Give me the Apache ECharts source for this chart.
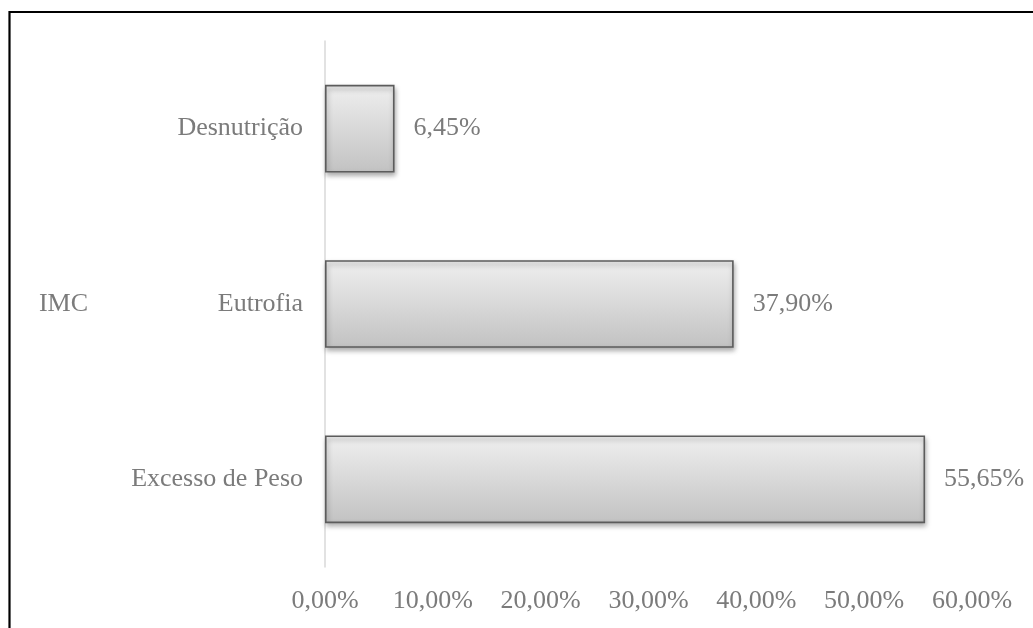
<!DOCTYPE html>
<html>
<head>
<meta charset="utf-8">
<title>IMC</title>
<script src="https://cdn.jsdelivr.net/npm/echarts@6/dist/echarts.min.js"></script>
<style>
  html, body { margin: 0; padding: 0; background: #ffffff; }
  #chart { width: 1033px; height: 628px; }
</style>
</head>
<body>
<div id="chart"></div>
<script>
// BMI categories, bottom to top
const categories = ['Excesso de Peso', 'Eutrofia', 'Desnutrição'];
// Share of participants in each category (%)
const values = [55.65, 37.90, 6.45];
// Value axis range and step (%)
const axisMin = 0;
const axisMax = 60;
const axisStep = 10;

const textColor = '#7b7b7b';
const fontFamily = '"Liberation Serif", "Times New Roman", serif';
const fmtPct = v => v.toFixed(2).replace('.', ',') + '%';

const chart = echarts.init(document.getElementById('chart'));
chart.setOption({
  backgroundColor: '#ffffff',
  animation: false,
  textStyle: { fontFamily: fontFamily },
  graphic: [{
    type: 'rect',
    shape: { x: 9.5, y: 12, width: 1200, height: 800 },
    style: { fill: 'none', stroke: '#000000', lineWidth: 2.2 },
    z: 10
  }],
  grid: { left: 325, right: 61, top: 41, bottom: 61, containLabel: false },
  xAxis: {
    type: 'value',
    min: axisMin,
    max: axisMax,
    interval: axisStep,
    axisLine: { show: false },
    axisTick: { show: false },
    splitLine: { show: false },
    axisLabel: {
      formatter: fmtPct,
      color: textColor,
      fontSize: 26,
      fontFamily: fontFamily,
      margin: 21
    }
  },
  yAxis: {
    type: 'category',
    data: categories,
    name: 'IMC',
    nameLocation: 'middle',
    nameRotate: 0,
    nameGap: 237,
    nameTextStyle: { color: textColor, fontSize: 26, fontFamily: fontFamily, align: 'right' },
    axisLine: { show: true, lineStyle: { color: '#d9d9d9', width: 1.5 } },
    axisTick: { show: false },
    splitLine: { show: false },
    axisLabel: {
      color: textColor,
      fontSize: 26,
      fontFamily: fontFamily,
      margin: 22
    }
  },
  series: [{
    type: 'bar',
    data: values,
    barCategoryGap: '50%',
    itemStyle: {
      color: new echarts.graphic.LinearGradient(0, 0, 0, 1, [
        { offset: 0, color: '#efefef' },
        { offset: 1, color: '#c2c2c2' }
      ]),
      borderColor: '#5c5c5c',
      borderWidth: 1.6,
      shadowColor: 'rgba(0,0,0,0.35)',
      shadowBlur: 5,
      shadowOffsetX: 1,
      shadowOffsetY: 3
    },
    label: {
      show: true,
      position: 'right',
      distance: 19,
      formatter: p => fmtPct(p.value),
      color: textColor,
      fontSize: 26,
      fontFamily: fontFamily
    }
  }]
});
</script>
</body>
</html>
